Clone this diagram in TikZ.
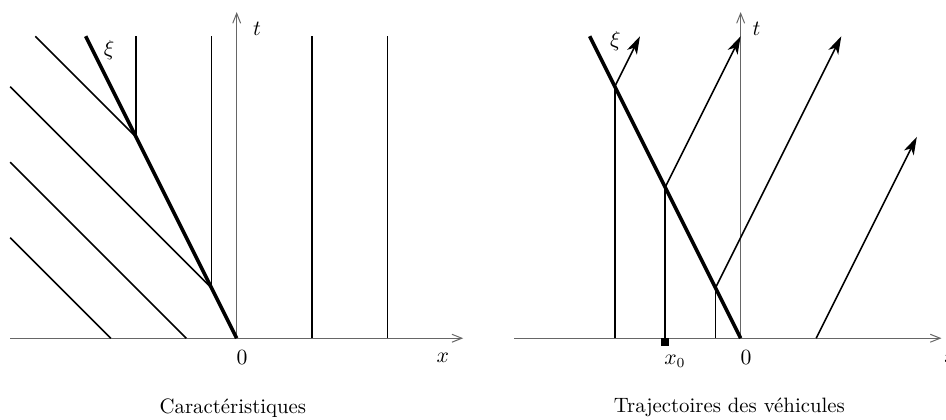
\documentclass[tikz,border=0pt]{standalone}
\usetikzlibrary{arrows.meta}
\begin{document}
\begin{tikzpicture}[x=1.34cm, y=1.34cm, >={Straight Barb[length=5pt,width=4pt]},
    font=\fontsize{10.5}{12}\selectfont,
    axe/.style={black!60, line width=0.5pt},
    choc/.style={line width=1.8pt},
    carac/.style={line width=0.8pt},
    traj/.style={line width=0.8pt, -{Stealth[length=9pt,width=5.5pt,inset=2.5pt]}}]
				
				\useasboundingbox (-3.135,-1.082) rectangle (9.395,4.48);
				
				% caracteristiques
				\draw[axe,->] (-3,0) -- (3,0);
				\draw[axe,->] (0,0) -- (0,4.32);
				\node (tL) at (0.27,4.1) {$t$};
				\node (xL) at (2.73,-0.26) {$x$};
				\node (zeroL) at (0.07,-0.26) {$0$};
				
				\coordinate (O) at (0,0);
				\coordinate (A) at (-1/3,2/3);
				\coordinate (B) at (-4/3,8/3);
				\coordinate (S) at (-2,4);
				
				\draw[carac] (-5/3,0) -- (-3,4/3);
				\draw[carac] (-2/3,0) -- (-3,7/3);
				\draw[carac] (A) -- (-3,10/3);
				\draw[carac] (B) -- (-8/3,4);
				\draw[carac] (A) -- (-1/3,4);
				\draw[carac] (B) -- (-4/3,4);
				\foreach \x in {1,2}
				\draw[carac] (\x,0) -- (\x,4);
				
				\draw[choc] (O) -- (S);
				\node (xiL) at (-1.69,3.82) {$\xi$};
				\node (capL) at (-0.05,-0.92) {Caractéristiques};
				
				% trajectoires
				\begin{scope}[shift={(6.675,0)}]
				\draw[axe,->] (-3,0) -- (2.66,0);
				\draw[axe,->] (0,0) -- (0,4.32);
				\node (tR) at (0.21,4.1) {$t$};
				\node (xR) at (2.78,-0.26) {$x$};
				\node (zeroR) at (0.07,-0.26) {$0$};
				
				\coordinate (O') at (0,0);
				\coordinate (P) at (-5/3,10/3);
				\coordinate (Q) at (-1,2);
				\coordinate (R) at (-1/3,2/3);
				\coordinate (S') at (-2,4);
				
				\draw[carac] (-5/3,0) -- (P);
				\draw[carac] (-1,0) -- (Q);
				\draw[carac] (-1/3,0) -- (R);
				
				\draw[traj] (P) -- (-4/3,4);
				\draw[traj] (Q) -- (0,4);
				\draw[traj] (R) -- (4/3,4);
				\draw[traj] (1,0) -- (7/3,8/3);
				
				\draw[choc] (O') -- (S');
				\fill (-1.05,-0.1) rectangle (-0.95,0);
				\node (x0) at (-0.87,-0.31) {$x_0$};
				\node (xiR) at (-1.66,3.93) {$\xi$};
				\node (capR) at (-0.15,-0.92) {Trajectoires des véhicules};
				\end{scope}
			\end{tikzpicture}
\end{document}
